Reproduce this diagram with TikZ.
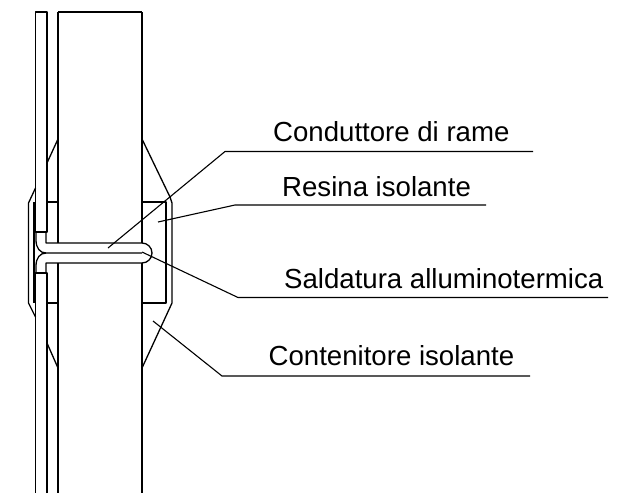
\documentclass[tikz,border=0pt]{standalone}
\usepackage{fontspec}
\setmainfont{Liberation Sans}
\tikzset{
  part/.style={line width=1.3pt,black,line join=round},
  leader/.style={line width=1.1pt,black},
  lbl/.style={font=\fontsize{27.6}{32}\selectfont,inner sep=0pt,anchor=base west,text=black}
}
\begin{document}
\begin{tikzpicture}[x=1pt,y=-1pt]
\useasboundingbox (0,0) rectangle (617,493);
% rail
\draw[part] (58,12) -- (142,12);
\draw[part] (58,12) -- (58,243);
\draw[part] (58,263) -- (58,493);
\draw[part] (142,12) -- (142,243);
\draw[part] (142,263) -- (142,493);
% fishplate bar
\draw[part] (47,493) -- (47,273) -- (35.5,273) -- (35.5,493);
\draw[part] (47,12) -- (47,232) -- (35.5,232) -- (35.5,12) -- cycle;
% container
\draw[part] (58,139) -- (47,163);
\draw[part] (58,368) -- (47,343);
\draw[part] (47,202) -- (58,202);
\draw[part] (47,303) -- (58,303);
\draw[part] (142,139) -- (170,197) -- (172,203) -- (172,303) -- (142,368);
\draw[part] (142,202) -- (166,202) -- (166,303) -- (142,303);
\draw[part] (35.5,188) -- (28.5,203) -- (28.5,303) -- (35.5,317);
\draw[part] (34,202) -- (34,303);
% conductor
\draw[part] (46,232) -- (46,243) -- (142,243) arc[start angle=-90,end angle=90,radius=10] -- (46,263) -- (46,273);
\draw[part] (36,232) -- (36,240) .. controls (36,248) and (40,253) .. (46,253) -- (142,253);
\draw[part] (46,253) .. controls (40,253) and (36,258) .. (36,266) -- (36,273);
% leaders and labels
\node[lbl] (a) at (273,141.5) {Conduttore di rame};
\node[lbl] (b) at (282,196) {Resina isolante};
\node[lbl] (c) at (284,288.5) {Saldatura alluminotermica};
\node[lbl] (d) at (268.5,365.5) {Contenitore isolante};
\coordinate (a0) at (108,248); \coordinate (a1) at (225,151.5); \coordinate (a2) at (533,151.5);
\coordinate (b0) at (158,222); \coordinate (b1) at (235,205); \coordinate (b2) at (486,205);
\coordinate (c0) at (142,252); \coordinate (c1) at (238,297.5); \coordinate (c2) at (608,297.5);
\coordinate (d0) at (153,321); \coordinate (d1) at (222,376); \coordinate (d2) at (530,376);
\draw[leader] (a0) -- (a1) -- (a2);
\draw[leader] (b0) -- (b1) -- (b2);
\draw[leader] (c0) -- (c1) -- (c2);
\draw[leader] (d0) -- (d1) -- (d2);
\end{tikzpicture}
\end{document}
